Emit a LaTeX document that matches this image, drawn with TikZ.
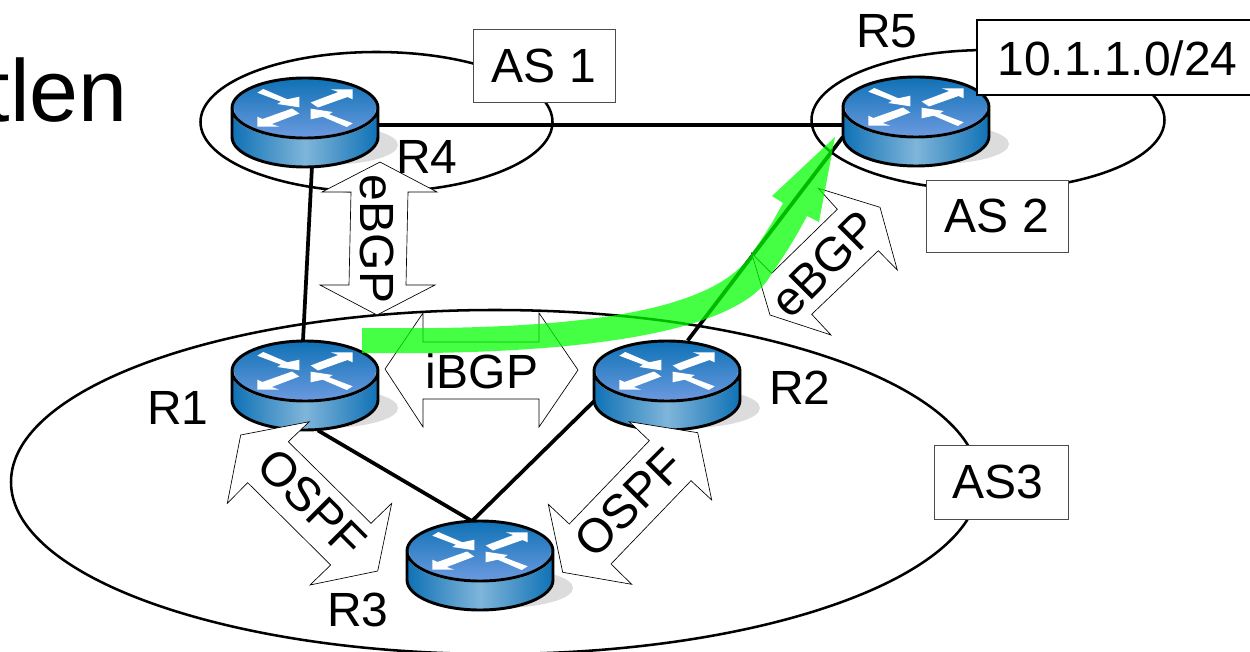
\documentclass[tikz,border=0pt]{standalone}
\usepackage{fontspec}
\setmainfont{Liberation Sans}
\usetikzlibrary{calc}
\definecolor{rblue}{RGB}{15,113,181}
\definecolor{rlight}{RGB}{127,181,218}
\definecolor{rshadow}{RGB}{220,220,220}
\definecolor{flow}{RGB}{0,255,0}
\tikzset{
  x=0.75pt,y=-0.75pt,
  asring/.style={draw=black,line width=1.9pt},
  link/.style={draw=black,line width=2.8pt},
  tagbox/.style={draw=black!70,line width=0.6pt,fill=white,inner sep=0pt,font=\fontsize{36pt}{38pt}\selectfont},
  dblarrow/.style={draw=black,line width=0.5pt,fill=white},
  lbl/.style={inner sep=0pt,font=\fontsize{36pt}{38pt}\selectfont},
  routeranchor/.style={inner sep=0pt,minimum width=109.5pt,minimum height=67pt},
}
% #1 name, #2 centre x, #3 top-ellipse centre y
\newcommand{\routerat}[3]{%
  \fill[rshadow] (#2+20,#3+37) ellipse [x radius=73,y radius=20];
  \begin{scope}[shift={(#2,#3)}]
    \path[left color=rblue,right color=rblue,middle color=rlight]
      (-73,0) -- (-73,29) arc[start angle=180,end angle=0,x radius=73,y radius=30] -- (73,0) -- cycle;
    \path[top color=rblue,bottom color=rlight!85!blue] (0,0) ellipse [x radius=73,y radius=30];
    \draw[white,line width=1.8pt] (-72,2) arc[start angle=180,end angle=0,x radius=72,y radius=28];
    \foreach \s in {1,-1}{
      \fill[white,xscale=\s,yscale=\s]
        (-47.7,-15.3) -- (-41.7,-19) -- (-17.7,-8.7) -- (-5.7,-11.3) -- (-5.7,-0.7) -- (-27.7,-4) -- (-24,-6.3) -- cycle;
      \fill[white,xscale=\s,yscale=\s]
        (5.7,-5.5) -- (33.3,-16) -- (25.7,-18.7) -- (47.7,-18.7) -- (47.7,-8.7) -- (42.5,-11) -- (13,-0.5) -- cycle;
    }
    \draw[black,line width=2.2pt,line join=round]
      (0,0) ellipse [x radius=73,y radius=30]
      (-73,0) -- (-73,29) arc[start angle=180,end angle=0,x radius=73,y radius=30] -- (73,0);
  \end{scope}
}
\begin{document}
\begin{tikzpicture}
\useasboundingbox (0,0) rectangle (1250,652);
\begin{scope}
\clip (0,0) rectangle (1250,652);
\node[lbl,anchor=base east,font=\fontsize{66pt}{70pt}\selectfont] (title) at (128,122) {tlen};

% invisible anchors of the routers
\node[routeranchor] (r4) at (305,122.5) {};
\node[routeranchor] (r5) at (916,122.5) {};
\node[routeranchor] (r1) at (305,385.5) {};
\node[routeranchor] (r2) at (667,385.5) {};
\node[routeranchor] (r3) at (480,566) {};

% autonomous systems
\node[draw=none,inner sep=0pt] (as1ring) at (376.5,122) {};
\node[draw=none,inner sep=0pt] (as2ring) at (988,120) {};
\node[draw=none,inner sep=0pt] (as3ring) at (495,482) {};
\draw[asring] (as1ring) ellipse [x radius=176,y radius=70];
\draw[asring] (as2ring) ellipse [x radius=176.5,y radius=70];
\draw[asring] (as3ring) ellipse [x radius=484,y radius=172];

% links
\draw[link] ([yshift=-1.9pt]r4.east) -- ([yshift=-1.9pt]r5.west);
\draw[link] ([xshift=5.2pt]r4.south) -- ([xshift=-1.5pt]r1.north);
\draw[link] ([xshift=9.7pt]r1.south) -- ([xshift=-6pt]r3.north);
\draw[link] ([xshift=-6pt]r3.north) -- ([yshift=-12pt]r2.west);
\draw[link] ([xshift=15.5pt]r2.north) -- ([yshift=-11pt]r5.west);

% routers
\routerat{R4}{305}{108}
\routerat{R5}{916}{107}
\routerat{R1}{305}{371}
\routerat{R2}{667}{371}
\routerat{R3}{480}{551}

% session arrows
\draw[dblarrow] (380,162) -- (437,192) -- (408,192) -- (406,285) -- (435,285) -- (377,315) -- (320,285) -- (349,285) -- (351,192) -- (322,192) -- cycle;
\draw[dblarrow] (385,369) -- (423,313) -- (423,342) -- (539,342) -- (539,313) -- (578,370) -- (539,427) -- (539,399) -- (423,399) -- (423,427) -- cycle;
\draw[dblarrow] (818.3,188.3) -- (837.3,209.3) -- (771.7,273.3) -- (751.7,253.3) -- (770,315) -- (831,335) -- (811.7,314.3) -- (878.3,250.7) -- (897.3,270) -- (880,207.3) -- cycle;
\draw[dblarrow] (309.3,421.7) -- (240.7,435) -- (227.3,503.3) -- (247.7,482.7) -- (330.7,565) -- (310,585) -- (377.7,571) -- (391.7,503.3) -- (371,523.3) -- (288.3,441.7) -- cycle;
\draw[dblarrow] (629.3,421.7) -- (649.3,440.7) -- (569.3,524) -- (548.3,504.3) -- (562.7,572.3) -- (631.7,584.3) -- (611,564) -- (691,480.7) -- (711.7,500) -- (697.7,432.7) -- cycle;

% session labels
\node[lbl,rotate=-90] (l1) at (377,239) {eBGP};
\node[lbl] (l2) at (482,371) {iBGP};
\node[lbl,rotate=45] (l3) at (824,264) {eBGP};
\node[lbl,rotate=-45] (l4) at (312,503) {OSPF};
\node[lbl,rotate=45] (l5) at (629,503) {OSPF};

% route
\fill[flow,fill opacity=0.73]
  (362,328) .. controls (540,330) and (710,320) .. (752,253)
  .. controls (765,235) and (775,218) .. (783,203)
  -- (772,196) -- (835,137) -- (819,222) -- (807,216)
  .. controls (797,235) and (785,255) .. (772,273)
  .. controls (745,326) and (610,356) .. (362,353) -- cycle;

% tags
\node[tagbox,minimum width=106.5pt,minimum height=54.75pt] (as1) at (544,65.5) {AS 1};
\node[tagbox,minimum width=106.5pt,minimum height=54pt] (as2) at (997,216) {AS 2};
\node[tagbox,minimum width=100.5pt,minimum height=55.5pt] (as3) at (1001,482) {};
\node[lbl] (as3text) at (998,482) {AS3};
\node[tagbox,draw=black,line width=1.4pt,minimum width=210pt,minimum height=56pt,anchor=west] (prefix) at (976,57.5) {};
\node[lbl] (prefixtext) at (1117.5,58) {10.1.1.0/24};

% router names
\node[lbl] (n4) at (427,157) {R4};
\node[lbl] (n5) at (887,31) {R5};
\node[lbl] (n1) at (178,408) {R1};
\node[lbl] (n2) at (800,388) {R2};
\node[lbl] (n3) at (358,610) {R3};
\end{scope}
\end{tikzpicture}
\end{document}
